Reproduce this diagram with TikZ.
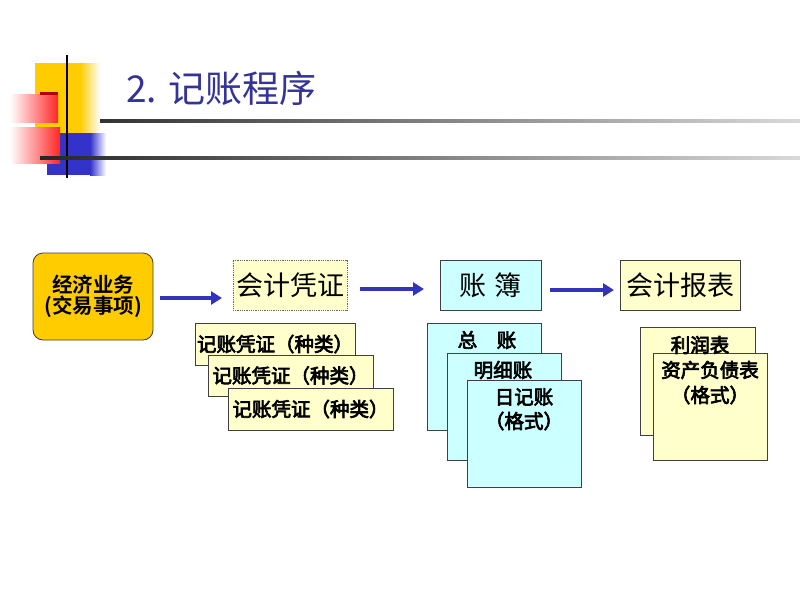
\documentclass[tikz,border=0pt]{standalone}
\usepackage{fontspec}
\setmainfont{Noto Sans CJK SC}[BoldFont={Noto Sans CJK SC}, BoldFeatures={FakeBold=3.5}]
\newfontfamily\heavyfont{Noto Sans CJK SC Bold}
\usetikzlibrary{arrows.meta}
\definecolor{gold}{HTML}{FFCC00}
\definecolor{lyellow}{HTML}{FFFFCC}
\definecolor{lcyan}{HTML}{CCFFFF}
\definecolor{titleblue}{HTML}{333399}
\definecolor{arrowblue}{HTML}{3333BB}
\definecolor{decoblue}{HTML}{3333CC}
\newcommand{\fsz}[1]{\fontsize{#1}{#1}\selectfont}
\tikzset{
  box/.style={draw=black!75, line width=0.8pt, inner sep=0pt, outer sep=0pt},
  lbl/.style={inner sep=0pt, font=\bfseries\fsz{19.5}},
  arr/.style={draw=arrowblue, line width=4.5pt, -{Triangle[length=11pt,width=13pt]}},
}
\begin{document}
\begin{tikzpicture}[x=1pt,y=-1pt]
\useasboundingbox (0,0) rectangle (800,600);
\fill[white] (0,0) rectangle (800,600);
% decoration
\fill[gold] (35,63) rectangle (80,133);
\shade[left color=gold, right color=white] (80,63) rectangle (100,133);
\fill[decoblue] (47,133) rectangle (90,175);
\shade[left color=decoblue, right color=white] (90,133) rectangle (106,175);
\shade[left color=white, right color=red!85] (10,94) rectangle (58,122);
\fill[red!70!black] (40,92) rectangle (58,95);
\shade[left color=white, right color=red!85] (10,127) rectangle (60,163);
\draw[line width=1.8pt] (67,55) -- (67,178);
\shade[left color=black!80, right color=black!15] (100,119) rectangle (800,122);
\shade[left color=black!85, right color=black!15] (40,156) rectangle (800,159);
% title
\node[anchor=west, inner sep=0pt, text=titleblue, font=\fsz{37}] (title) at (126,88) {2. 记账程序};
% main row
\node[box, fill=gold, rounded corners=10pt, minimum width=120pt, minimum height=87pt, align=center, font=\heavyfont\fsz{20.5}] (jj) at (93,296.5) {经济业务\\(交易事项)};
\node[box, fill=lyellow, draw=black!60, densely dotted, minimum width=114pt, minimum height=50pt, font=\fsz{27}] (kj) at (290,285) {会计凭证};
\node[box, fill=lcyan, minimum width=101pt, minimum height=50pt, font=\fsz{27}] (zb) at (490.5,285) {账\,\,簿};
\node[box, fill=lyellow, minimum width=120pt, minimum height=50pt, font=\fsz{27}] (kb) at (680,285) {会计报表};
\draw[arr] ([shift={(7,1.5)}]jj.east) -- ([shift={(-11,13)}]kj.west);
\draw[arr] ([shift={(13,4)}]kj.east) -- ([shift={(-16,4)}]zb.west);
\draw[arr] ([shift={(9,5)}]zb.east) -- ([shift={(-6,5)}]kb.west);
% vouchers
\node[box, fill=lyellow, minimum width=160pt, minimum height=42pt, font=\bfseries\fsz{19.5}] (pz1) at (275,344) {记账凭证（种类）};
\node[box, fill=lyellow, minimum width=165pt, minimum height=41pt, font=\bfseries\fsz{19.5}] (pz2) at (290.5,375.5) {记账凭证（种类）};
\node[box, fill=lyellow, minimum width=165pt, minimum height=42pt, font=\bfseries\fsz{19.5}] (pz3) at (310.5,409) {记账凭证（种类）};
% ledgers
\node[box, fill=lcyan, minimum width=114pt, minimum height=107pt] (zb1) at (484,376.5) {};
\node[box, fill=lcyan, minimum width=114pt, minimum height=107pt] (zb2) at (504,406.5) {};
\node[box, fill=lcyan, minimum width=114pt, minimum height=107pt] (zb3) at (524,433.5) {};
\node[lbl] (t1) at (487,340) {总\quad 账};
\node[lbl] (t2) at (503,370) {明细账};
\node[lbl] (t3) at (524,397) {日记账};
\node[lbl] (t4) at (524,421) {（格式）};
% reports
\node[box, fill=lyellow, minimum width=115pt, minimum height=108pt] (bb1) at (697.5,381) {};
\node[box, fill=lyellow, minimum width=114pt, minimum height=107pt] (bb2) at (710,406.5) {};
\node[lbl] (r1) at (700,345) {利润表};
\node[lbl] (r2) at (710,370) {资产负债表};
\node[lbl] (r3) at (710,395) {（格式）};
\end{tikzpicture}
\end{document}
